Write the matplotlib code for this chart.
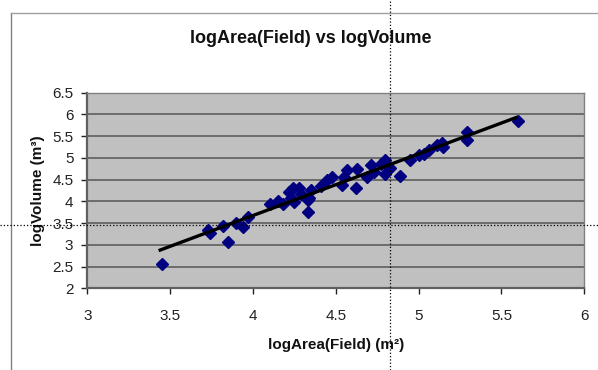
import matplotlib.pyplot as plt
from matplotlib.lines import Line2D

# values
log_area = [3.45, 3.73, 3.74, 3.82, 3.85, 3.90, 3.94, 3.97, 4.10, 4.15,
            4.18, 4.22, 4.24, 4.23, 4.25, 4.28, 4.29, 4.33, 4.33, 4.34,
            4.35, 4.41, 4.45, 4.48, 4.54, 4.55, 4.57, 4.62, 4.63, 4.69,
            4.71, 4.73, 4.77, 4.80, 4.80, 4.83, 4.89, 4.95, 5.00, 5.03,
            5.06, 5.11, 5.14, 5.15, 5.29, 5.29, 5.60]
log_volume = [2.56, 3.34, 3.28, 3.44, 3.06, 3.51, 3.42, 3.63, 3.95, 4.01,
              3.94, 4.22, 4.30, 4.07, 3.99, 4.30, 4.18, 3.76, 4.03, 4.07,
              4.26, 4.36, 4.49, 4.57, 4.37, 4.57, 4.72, 4.30, 4.74, 4.57,
              4.83, 4.68, 4.87, 4.95, 4.64, 4.76, 4.58, 4.95, 5.06, 5.10,
              5.18, 5.29, 5.35, 5.26, 5.60, 5.41, 5.85]
trend_x = [3.44, 5.59]
trend_y = [2.88, 5.93]

x_ticks = [3, 3.5, 4, 4.5, 5, 5.5, 6]
y_ticks = [2, 2.5, 3, 3.5, 4, 4.5, 5, 5.5, 6, 6.5]

plt.rcParams['font.family'] = ['Liberation Sans', 'DejaVu Sans']

fig = plt.figure(figsize=(5.98, 3.70), dpi=100)
ax = fig.add_axes([0.146, 0.2208, 0.831, 0.5287])
ax.set_facecolor('#c0c0c0')

ax.plot(log_area, log_volume, linestyle='none', marker='D', markersize=6,
        color='#000080', zorder=3)
ax.plot(trend_x, trend_y, color='black', linewidth=2.4, zorder=4)

ax.set_xlim(3, 6)
ax.set_ylim(2, 6.5)
ax.set_xticks(x_ticks)
ax.set_xticklabels([f'{t:g}' for t in x_ticks])
ax.set_yticks(y_ticks)
ax.set_yticklabels([f'{t:g}' for t in y_ticks])
ax.tick_params(labelsize=11, colors='#222222', length=4, width=1,
               direction='out', pad=6)
ax.tick_params(axis='x', pad=11)
ax.grid(axis='y', color='#555555', linewidth=1.1)
ax.set_axisbelow(True)
for side in ['top', 'right']:
    ax.spines[side].set_color('#808080')
    ax.spines[side].set_linewidth(1)
for side in ['left', 'bottom']:
    ax.spines[side].set_color('#606060')
    ax.spines[side].set_linewidth(1.6)

fig.text(0.52, 0.895, 'logArea(Field) vs logVolume', ha='center', va='center',
         fontsize=13, fontweight='bold', color='#111111')
ax.set_xlabel('logArea(Field) (m²)', fontsize=11, fontweight='bold',
              color='#111111', labelpad=11)
ax.set_ylabel('logVolume (m³)', fontsize=11, fontweight='bold',
              color='#111111', labelpad=5)

# chart frame and screen crosshair
fig.add_artist(Line2D([10.5 / 598, 10.5 / 598], [0, 1 - 13 / 370],
                      color='#808080', linewidth=1, transform=fig.transFigure))
fig.add_artist(Line2D([10.5 / 598, 1], [1 - 13 / 370, 1 - 13 / 370],
                      color='#a0a0a0', linewidth=1, transform=fig.transFigure))
fig.add_artist(Line2D([389.5 / 598, 389.5 / 598], [0, 1], color='black',
                      linewidth=0.9, linestyle=':', transform=fig.transFigure,
                      zorder=10))
fig.add_artist(Line2D([0, 1], [1 - 224.5 / 370, 1 - 224.5 / 370], color='black',
                      linewidth=0.9, linestyle=':', transform=fig.transFigure,
                      zorder=10))

fig.savefig('out.png', dpi=100)
